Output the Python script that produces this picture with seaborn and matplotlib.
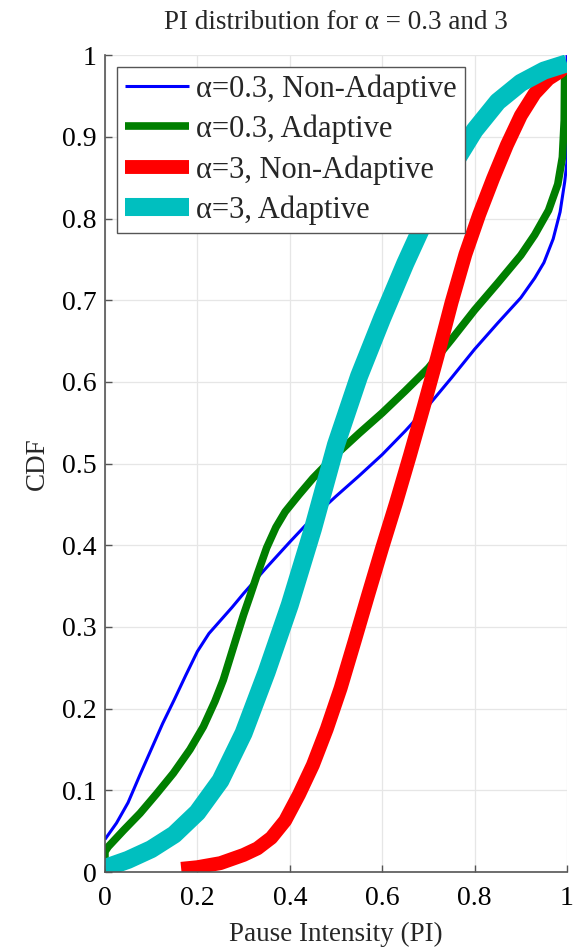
import matplotlib
matplotlib.use("Agg")
import matplotlib.pyplot as plt
import seaborn as sns
import pandas as pd

# CDF samples of pause intensity (PI)
blue_x = [0.0, 0.025, 0.05, 0.075, 0.10, 0.125, 0.15, 0.175, 0.20, 0.225, 0.25, 0.275,
          0.30, 0.35, 0.40, 0.45, 0.50, 0.55, 0.60, 0.65, 0.70, 0.75, 0.80, 0.85, 0.90,
          0.93, 0.95, 0.97, 0.985, 0.995, 1.0, 1.0]
blue_y = [0.040, 0.060, 0.085, 0.118, 0.150, 0.182, 0.211, 0.241, 0.270, 0.292, 0.308, 0.324,
          0.341, 0.373, 0.404, 0.434, 0.460, 0.485, 0.511, 0.540, 0.571, 0.605, 0.640, 0.672, 0.703,
          0.727, 0.746, 0.775, 0.808, 0.845, 0.870, 1.0]

green_x = [0.0, 0.0, 0.007, 0.040, 0.076, 0.112, 0.148, 0.184, 0.213, 0.238, 0.256, 0.285,
           0.30, 0.314, 0.33, 0.35, 0.37, 0.39, 0.42, 0.45, 0.50, 0.55, 0.60, 0.65, 0.70,
           0.75, 0.80, 0.85, 0.90, 0.93, 0.96, 0.98, 0.99, 0.994, 0.995]
green_y = [0.0, 0.025, 0.031, 0.051, 0.072, 0.096, 0.121, 0.150, 0.178, 0.209, 0.235, 0.288,
           0.315, 0.338, 0.365, 0.397, 0.422, 0.441, 0.462, 0.482, 0.511, 0.537, 0.562, 0.589, 0.617,
           0.652, 0.688, 0.721, 0.755, 0.780, 0.810, 0.842, 0.875, 0.920, 0.990]

red_x = [0.165, 0.20, 0.25, 0.30, 0.33, 0.36, 0.39, 0.42, 0.45, 0.48, 0.51, 0.54, 0.57,
         0.60, 0.63, 0.66, 0.69, 0.72, 0.75, 0.78, 0.81, 0.84, 0.87, 0.90, 0.93, 0.96,
         0.985, 1.0]
red_y = [0.004, 0.006, 0.011, 0.021, 0.029, 0.042, 0.063, 0.095, 0.131, 0.175, 0.225, 0.282, 0.340,
         0.397, 0.452, 0.510, 0.570, 0.632, 0.697, 0.756, 0.805, 0.849, 0.890, 0.926, 0.953, 0.971,
         0.980, 0.990]

cyan_x = [0.0, 0.05, 0.10, 0.15, 0.20, 0.25, 0.30, 0.35, 0.40, 0.45, 0.50, 0.55, 0.60,
          0.65, 0.70, 0.75, 0.80, 0.85, 0.90, 0.95, 1.0]
cyan_y = [0.005, 0.015, 0.028, 0.046, 0.073, 0.112, 0.170, 0.245, 0.327, 0.420, 0.523, 0.607,
          0.678, 0.745, 0.807, 0.862, 0.908, 0.943, 0.966, 0.981, 0.990]

labels = ["α=0.3, Non-Adaptive", "α=0.3, Adaptive", "α=3, Non-Adaptive", "α=3, Adaptive"]
colors = ["#0000ff", "#007f00", "#ff0000", "#00bfbf"]
widths = [2.2, 5.5, 10.0, 13.0]

x_ticks = [0, 0.2, 0.4, 0.6, 0.8, 1]
x_tick_labels = ["0", "0.2", "0.4", "0.6", "0.8", "1"]
y_ticks = [0, 0.1, 0.2, 0.3, 0.4, 0.5, 0.6, 0.7, 0.8, 0.9, 1]
y_tick_labels = ["0", "0.1", "0.2", "0.3", "0.4", "0.5", "0.6", "0.7", "0.8", "0.9", "1"]

sns.set_theme(style="white")
plt.rcParams["font.family"] = ["Liberation Serif", "DejaVu Serif"]

fig = plt.figure(figsize=(5.83, 9.5), dpi=100)
ax = fig.add_axes([0.180, 0.082, 0.7926, 0.860])

series = [(blue_x, blue_y), (green_x, green_y), (red_x, red_y), (cyan_x, cyan_y)]
for (xs, ys), lab, col, lw in zip(series, labels, colors, widths):
    df = pd.DataFrame({"PI": xs, "CDF": ys})
    sns.lineplot(data=df, x="PI", y="CDF", ax=ax, color=col, linewidth=lw,
                 label=lab, sort=False, estimator=None, solid_capstyle="butt",
                 solid_joinstyle="round")

ax.set_xlim(0, 1)
ax.set_ylim(0, 1)
ax.set_xticks(x_ticks)
ax.set_xticklabels(x_tick_labels)
ax.set_yticks(y_ticks)
ax.set_yticklabels(y_tick_labels)
ax.grid(True, color="#e6e6e6", linewidth=0.9)
ax.set_axisbelow(True)

for side in ["top", "right"]:
    ax.spines[side].set_visible(False)
for side in ["left", "bottom"]:
    ax.spines[side].set_color("#555555")
    ax.spines[side].set_linewidth(1.2)

ax.tick_params(axis="both", direction="in", length=5, width=1.0, color="#555555",
               labelsize=20, labelcolor="black", left=True, bottom=True)
ax.tick_params(axis="x", pad=10)
ax.tick_params(axis="y", pad=6)

ax.set_xlabel("Pause Intensity (PI)", fontsize=19.5, labelpad=8)
ax.set_ylabel("CDF", fontsize=19.5, labelpad=9)
ax.set_title("PI distribution for α = 0.3 and 3", fontsize=19.5, pad=19)

leg = ax.legend(loc="upper left", bbox_to_anchor=(0.026, 0.986), fontsize=22,
                frameon=True, fancybox=False, edgecolor="#555555", framealpha=1,
                handlelength=2.1, borderaxespad=0, labelspacing=0.36,
                handletextpad=0.25, borderpad=0.25)
leg.get_frame().set_linewidth(1.0)

fig.savefig("out.png", dpi=100)
